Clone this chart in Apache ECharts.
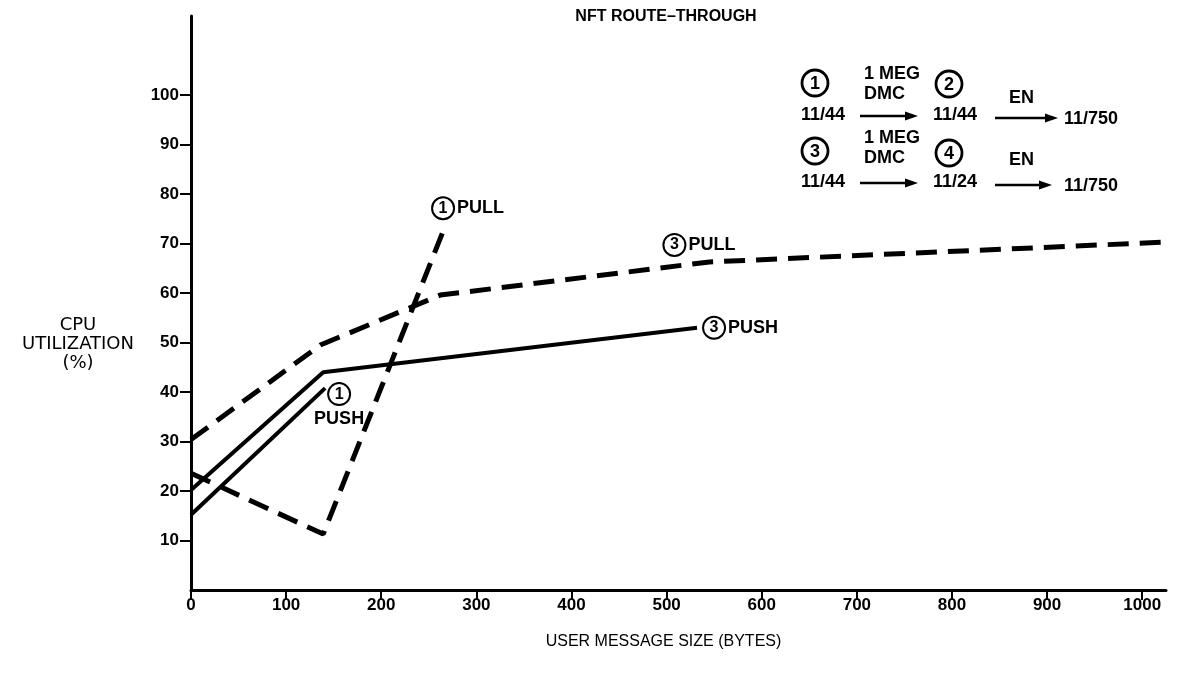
<!DOCTYPE html>
<html>
<head>
<meta charset="utf-8">
<script src="https://cdn.jsdelivr.net/npm/echarts@6/dist/echarts.min.js"></script>
<style>html,body{margin:0;padding:0;background:#fff}#c{width:1190px;height:673px}</style>
</head>
<body>
<div id="c"></div>
<script>
const xTicks = [0, 100, 200, 300, 400, 500, 600, 700, 800, 900, 1000];
const yTicks = [10, 20, 30, 40, 50, 60, 70, 80, 90, 100];
const push1 = [[0, 15.2], [141, 40.8]];
const push3 = [[0, 20.2], [139, 44], [532, 53]];
const pull1 = [[0, 23.6], [139, 11.3], [265, 72.5]];
const pull3 = [[0, 30.4], [136, 49.5], [262, 59.6], [545, 66.3], [1024, 70.3]];

const FONT = 'Liberation Sans';
const circ = {width: 20, height: 20, lineHeight: 20, borderRadius: 12, borderWidth: 2, borderColor: '#000',
  align: 'center', verticalAlign: 'middle', fontSize: 16, fontWeight: 'bold', fontFamily: FONT, color: '#000', padding: [1,1,1,1]};
const txt = {fontSize: 18, fontWeight: 'bold', fontFamily: FONT, color: '#000', padding: [0, 0, 0, 3], verticalAlign: 'middle'};

function labelMark(coord, formatter, align, vAlign, offset) {
  return {
    symbol: 'circle', symbolSize: 1, itemStyle: {color: 'rgba(0,0,0,0)'}, silent: true,
    data: [{coord: coord}],
    label: {show: true, position: 'inside', formatter: formatter, align: align, verticalAlign: vAlign, offset: offset,
      rich: {c: circ, t: txt, t2: Object.assign({}, txt, {padding: [8, 0, 0, 0], lineHeight: 22})}}
  };
}

const dashed = {color: '#000', width: 5, type: [21, 11], cap: 'butt'};
const solid = {color: '#000', width: 4};

const chart = echarts.init(document.getElementById('c'));

const lg = [];
function ctext(x, y, t) {
  lg.push({type: 'text', x: x, y: y, style: {text: t, fontSize: 18, fontFamily: FONT, fontWeight: 'bold',
    fill: '#000', align: 'left', verticalAlign: 'middle'}});
}
function circNum(cx, cy, n) {
  lg.push({type: 'circle', shape: {cx: cx, cy: cy, r: 13}, style: {fill: '#fff', stroke: '#000', lineWidth: 2.8}});
  lg.push({type: 'text', x: cx, y: cy + 1, style: {text: n, fontSize: 18, fontWeight: 'bold', fontFamily: FONT, fill: '#000', align: 'center', verticalAlign: 'middle'}});
}
function arrow(x1, x2, y) {
  lg.push({type: 'line', shape: {x1: x1, y1: y, x2: x2 - 8, y2: y}, style: {stroke: '#000', lineWidth: 2.5}});
  lg.push({type: 'polygon', shape: {points: [[x2, y], [x2 - 13, y - 4.5], [x2 - 13, y + 4.5]]}, style: {fill: '#000'}});
}
circNum(815, 83, '1'); circNum(949, 84, '2');
ctext(864, 74, '1 MEG'); ctext(864, 94, 'DMC');
ctext(801, 115, '11/44'); arrow(860, 918, 116); ctext(933, 115, '11/44');
ctext(1009, 98, 'EN'); arrow(995, 1058, 118); ctext(1064, 119, '11/750');
circNum(815, 151, '3'); circNum(949, 153, '4');
ctext(864, 138, '1 MEG'); ctext(864, 158, 'DMC');
ctext(801, 182, '11/44'); arrow(860, 918, 183); ctext(933, 182, '11/24');
ctext(1009, 160, 'EN'); arrow(995, 1052, 185); ctext(1064, 186, '11/750');
lg.push({type: 'text', x: 78, y: 344, style: {text: 'CPU\nUTILIZATION\n(%)', fontSize: 18, fontFamily: 'DejaVu Sans', fill: '#000',
  align: 'center', verticalAlign: 'middle', lineHeight: 19}});

chart.setOption({
  animation: false,
  backgroundColor: '#fff',
  title: {text: 'NFT ROUTE\u2013THROUGH', left: 661, top: 4, textAlign: 'center',
    textStyle: {fontSize: 16, fontWeight: 'bold', fontFamily: FONT, color: '#000'}},
  grid: {left: 191, right: 24, top: 16, bottom: 83, containLabel: false},
  xAxis: {
    type: 'value', min: 0, max: 1025,
    name: 'USER MESSAGE SIZE (BYTES)', nameLocation: 'middle', nameGap: 44,
    nameTextStyle: {fontSize: 16, fontFamily: FONT, color: '#000', padding: [0, 0, 0, -30]},
    axisLine: {lineStyle: {color: '#000', width: 3}},
    axisTick: {show: true, length: 10, lineStyle: {color: '#000', width: 2}, customValues: xTicks},
    axisLabel: {customValues: xTicks, formatter: v => String(v), fontSize: 17, fontWeight: 'bold', fontFamily: FONT, color: '#000', margin: 7},
    splitLine: {show: false}
  },
  yAxis: {
    type: 'value', min: 0, max: 116,
    axisLine: {show: true, lineStyle: {color: '#000', width: 3}},
    axisTick: {show: true, length: 11, lineStyle: {color: '#000', width: 2}, customValues: yTicks},
    axisLabel: {customValues: yTicks, fontSize: 17, fontWeight: 'bold', fontFamily: FONT, color: '#000', margin: 12},
    splitLine: {show: false}
  },
  series: [
    {type: 'line', name: '1 PUSH', data: push1, symbol: 'none', lineStyle: solid,
      markPoint: labelMark(push1[push1.length - 1], '{c|1}\n{t2|PUSH}', 'center', 'top', [14, -4])},
    {type: 'line', name: '3 PUSH', data: push3, symbol: 'none', lineStyle: solid,
      markPoint: labelMark(push3[push3.length - 1], '{c|3}{t|PUSH}', 'left', 'middle', [6, 0])},
    {type: 'line', name: '1 PULL', data: pull1, symbol: 'none', lineStyle: dashed,
      markPoint: labelMark(pull1[pull1.length - 1], '{c|1}{t|PULL}', 'left', 'middle', [-11, -23])},
    {type: 'line', name: '3 PULL', data: pull3, symbol: 'none', lineStyle: dashed,
      markPoint: labelMark(pull3[3], '{c|3}{t|PULL}', 'left', 'middle', [-46, -17])}
  ],
  graphic: lg
});
</script>
</body>
</html>
